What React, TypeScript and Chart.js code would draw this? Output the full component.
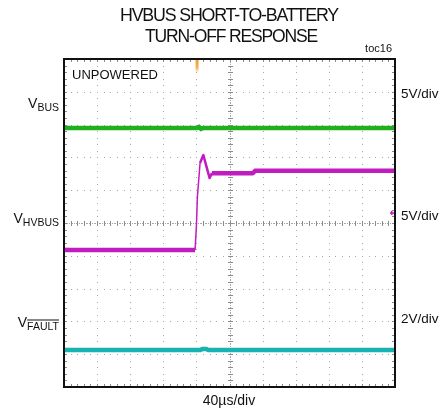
import React, { useEffect, useRef } from 'react';
import { Chart, registerables } from 'chart.js';

Chart.register(...registerables);

// Time axis: 10 divisions of 40µs; vertical axis: 10 divisions (screen units)
const vbusX = [0, 4.02, 4.08, 4.14, 4.22, 10];
const vbusY = [7.9, 7.9, 7.93, 7.87, 7.9, 7.9];

const hvbusX = [0, 3.96, 4.0, 4.03, 4.11, 4.21, 4.29, 4.4, 4.47, 5.71, 5.77, 10];
const hvbusY = [4.18, 4.18, 4.9, 5.79, 6.83, 7.07, 6.77, 6.37, 6.52, 6.52, 6.59, 6.59];

const faultX = [0, 4.12, 4.18, 4.3, 4.36, 10];
const faultY = [1.13, 1.13, 1.16, 1.16, 1.13, 1.13];

const channelNames = ['BUS', 'HVBUS', 'FAULT'];
const channelScales = ['5V/div', '5V/div', '2V/div'];
const channelGround = [7.9, 4.18, 1.13];
const timeScale = '40µs/div';
const triggerTime = 4.02;
const triggerLevel = 5.31;
const titleLines = ['HVBUS SHORT-TO-BATTERY', 'TURN-OFF RESPONSE'];

const GREEN = '#1fb01f';
const MAGENTA = '#c01cc0';
const CYAN = '#18b2b2';
const FONT = "'Liberation Sans', Arial, sans-serif";

const toPts = (xs: number[], ys: number[]) => xs.map((x, i) => ({ x, y: ys[i] }));

const segWidth = (ctx: any) => {
  const dx = Math.abs(ctx.p1.parsed.x - ctx.p0.parsed.x);
  const dy = Math.abs(ctx.p1.parsed.y - ctx.p0.parsed.y);
  if (dx > 0 && dy / dx > 6) return 1.5;
  if (dy > 0.1) return 2.5;
  return 4.5;
};

const scopePlugin = {
  id: 'scope',
  beforeDatasetsDraw(chart: any) {
    const { ctx, chartArea: a, scales } = chart;
    const x = scales.x;
    const y = scales.y;
    ctx.save();
    ctx.fillStyle = '#a8a8a8';
    for (let i = 1; i < 10; i++) {
      const px = Math.round(x.getPixelForValue(i));
      const py = Math.round(y.getPixelForValue(i));
      const step = i === 5 ? 0.05 : 0.2;
      const n = Math.round(10 / step);
      for (let k = 0; k <= n; k++) {
        const t = k * step;
        ctx.fillRect(px, Math.round(y.getPixelForValue(t)), 1, 1);
        ctx.fillRect(Math.round(x.getPixelForValue(t)), py, 1, 1);
      }
    }
    const cx = Math.round(x.getPixelForValue(5));
    const cy = Math.round(y.getPixelForValue(5));
    ctx.fillStyle = '#8c8c8c';
    for (let k = 0; k <= 50; k++) {
      const t = k * 0.2;
      const xp = Math.round(x.getPixelForValue(t));
      const yp = Math.round(y.getPixelForValue(t));
      ctx.fillRect(cx - 2, yp, 5, 1);
      ctx.fillRect(xp, cy - 2, 1, 5);
      ctx.fillRect(a.left, yp, 3, 1);
      ctx.fillRect(a.right - 3, yp, 3, 1);
      ctx.fillRect(xp, a.top, 1, 3);
      ctx.fillRect(xp, a.bottom - 3, 1, 3);
    }
    ctx.restore();
  },
  afterDatasetsDraw(chart: any) {
    const { ctx, chartArea: a, scales } = chart;
    const x = scales.x;
    const y = scales.y;
    ctx.save();
    // frame
    ctx.strokeStyle = '#111';
    ctx.lineWidth = 2;
    ctx.strokeRect(a.left, a.top, a.right - a.left, a.bottom - a.top);
    // ground markers
    const cols = [GREEN, MAGENTA, CYAN];
    channelGround.forEach((g, i) => {
      ctx.fillStyle = cols[i];
      const yp = y.getPixelForValue(g);
      ctx.fillRect(a.left + 1, yp - 2, 4, 4);
    });
    // trigger time marker
    const tx = x.getPixelForValue(triggerTime);
    const grad = ctx.createLinearGradient(0, a.top + 1, 0, a.top + 14);
    grad.addColorStop(0, '#f2a02a');
    grad.addColorStop(0.6, '#f5b060');
    grad.addColorStop(1, 'rgba(245,176,96,0)');
    ctx.fillStyle = grad;
    ctx.fillRect(tx - 1.5, a.top + 1, 3, 13);
    // trigger level marker
    const ty = y.getPixelForValue(triggerLevel);
    ctx.fillStyle = MAGENTA;
    ctx.fillRect(a.right - 5, ty - 0.5, 4, 1.5);
    ctx.fillRect(a.right - 4, ty - 2, 1.5, 4);
    ctx.restore();
  },
  afterDraw(chart: any) {
    const { ctx, chartArea: a } = chart;
    ctx.save();
    ctx.fillStyle = '#111';
    // title
    ctx.textAlign = 'center';
    ctx.textBaseline = 'alphabetic';
    ctx.font = `18px ${FONT}`;
    try { (ctx as any).letterSpacing = '-1.2px'; } catch (e) {}
    ctx.fillText(titleLines[0], 229, 21, 218);
    ctx.fillText(titleLines[1], 231, 42, 172);
    try { (ctx as any).letterSpacing = '0px'; } catch (e) {}
    // toc
    ctx.textAlign = 'right';
    ctx.font = `11px ${FONT}`;
    ctx.fillText('toc16', 392, 52);
    // unpowered
    ctx.textAlign = 'left';
    ctx.font = `13px ${FONT}`;
    ctx.fillText('UNPOWERED', 72, 79);
    // bottom time scale
    ctx.textAlign = 'center';
    ctx.font = `14px ${FONT}`;
    ctx.fillText(timeScale, 229, 405);
    // left channel labels
    const vBase = [108, 222.5, 326.5];
    const subBase = [111, 226, 330];
    const rightBase = [98, 220, 323];
    channelNames.forEach((nm, i) => {
      ctx.font = `10.5px ${FONT}`;
      const sw = ctx.measureText(nm).width;
      ctx.font = `14px ${FONT}`;
      const vw = ctx.measureText('V').width;
      const xEnd = a.left - 5;
      ctx.textAlign = 'left';
      ctx.fillText('V', xEnd - sw - vw, vBase[i]);
      ctx.font = `10.5px ${FONT}`;
      ctx.fillText(nm, xEnd - sw, subBase[i]);
      if (nm === 'FAULT') {
        ctx.fillRect(xEnd - sw, subBase[i] - 10.5, sw, 1);
      }
      ctx.font = `13.5px ${FONT}`;
      ctx.fillText(channelScales[i], a.right + 6, rightBase[i]);
    });
    ctx.restore();
  },
};

export default function App() {
  const ref = useRef<HTMLCanvasElement | null>(null);
  useEffect(() => {
    if (!ref.current) return;
    const chart = new Chart(ref.current, {
      type: 'line',
      data: {
        datasets: [
          {
            data: toPts(vbusX, vbusY),
            borderColor: GREEN,
            borderWidth: 4.5,
            pointRadius: 0,
            segment: { borderWidth: segWidth },
          },
          {
            data: toPts(hvbusX, hvbusY),
            borderColor: MAGENTA,
            borderWidth: 4.5,
            pointRadius: 0,
            borderJoinStyle: 'round',
            segment: { borderWidth: segWidth },
          },
          {
            data: toPts(faultX, faultY),
            borderColor: CYAN,
            borderWidth: 4.5,
            pointRadius: 0,
            segment: { borderWidth: segWidth },
          },
        ],
      },
      options: {
        responsive: false,
        animation: false,
        devicePixelRatio: 1,
        layout: { padding: { left: 64, right: 50, top: 59, bottom: 28 } },
        plugins: { legend: { display: false }, tooltip: { enabled: false } },
        scales: {
          x: { type: 'linear', min: 0, max: 10, display: false },
          y: { type: 'linear', min: 0, max: 10, display: false },
        },
      },
      plugins: [scopePlugin],
    } as any);
    return () => chart.destroy();
  }, []);
  return (
    <div style={{ position: 'fixed', left: 0, top: 0, width: 445, height: 415, background: '#fff' }}>
      <canvas ref={ref} width={445} height={415} />
    </div>
  );
}
